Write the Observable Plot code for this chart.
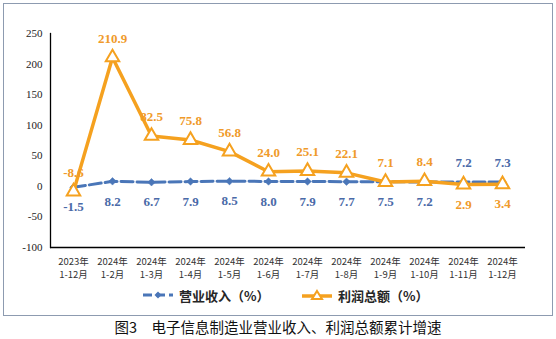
<!DOCTYPE html>
<html>
<head>
<meta charset="utf-8">
<script src="https://cdn.jsdelivr.net/npm/d3@7"></script>
<script src="https://cdn.jsdelivr.net/npm/@observablehq/plot@0.6"></script>
<style>
  html, body { margin: 0; padding: 0; background: #fff; }
  #wrap { position: relative; width: 556px; height: 339px; overflow: hidden; }
  #border { position: absolute; left: 3px; top: 3px; width: 550px; height: 313px; box-sizing: border-box; border: 1px solid #8d9bb0; }
  #chart { position: absolute; left: 0; top: 0; }
  #legend { position: absolute; top: 285px; left: 0; width: 556px; height: 20px; font-family: "Noto Sans CJK SC", sans-serif; font-weight: bold; font-size: 13px; color: #262626; }
  #legend .item { position: absolute; top: 0; display: flex; align-items: center; height: 20px; }
  #legend svg { margin-right: 5px; }
  #caption { position: absolute; top: 317px; left: 0; width: 556px; text-align: center; font-family: "Noto Sans CJK SC", sans-serif; font-size: 14.5px; color: #111; line-height: 20px; }
</style>
</head>
<body>
<div id="wrap">
  <div id="border"></div>
  <div id="chart"></div>
  <div id="legend">
    <div class="item" style="left:142px">
      <svg width="32" height="12"><line x1="1" y1="6" x2="31" y2="6" stroke="#4a76b8" stroke-width="3" stroke-dasharray="9,4"/><path d="M16,2.5 L19.5,6 L16,9.5 L12.5,6 Z" fill="#4a76b8"/></svg>
      <span>营业收入（%）</span>
    </div>
    <div class="item" style="left:301px">
      <svg width="32" height="14"><line x1="1" y1="8" x2="31" y2="8" stroke="#f5a11f" stroke-width="3.5"/><path d="M16,3 L21,11 L11,11 Z" fill="#fff" stroke="#f5a11f" stroke-width="2"/></svg>
      <span>利润总额（%）</span>
    </div>
  </div>
  <div id="caption">图3　电子信息制造业营业收入、利润总额累计增速</div>
</div>
<script>
const categories = ["2023年1-12月","2024年1-2月","2024年1-3月","2024年1-4月","2024年1-5月","2024年1-6月","2024年1-7月","2024年1-8月","2024年1-9月","2024年1-10月","2024年1-11月","2024年1-12月"];
const revenue = [-1.5, 8.2, 6.7, 7.9, 8.5, 8.0, 7.9, 7.7, 7.5, 7.2, 7.2, 7.3];
const profit = [-8.6, 210.9, 82.5, 75.8, 56.8, 24.0, 25.1, 22.1, 7.1, 8.4, 2.9, 3.4];
const yTicks = [-100, -50, 0, 50, 100, 150, 200, 250];
const profitLabelBelow = ["2024年1-11月", "2024年1-12月"];

const blue = "#4a76b8", blueText = "#4a6aa8";
const orange = "#f5a11f", orangeText = "#f09a2a";

const rows = categories.map((c, i) => ({cat: c, revenue: revenue[i], profit: profit[i]}));
const revAbove = rows.filter(d => profitLabelBelow.includes(d.cat));
const revBelow = rows.filter(d => !profitLabelBelow.includes(d.cat));
const profAbove = revBelow, profBelow = revAbove;

const labelFont = {fontFamily: "Liberation Serif, serif", fontWeight: "bold", fontSize: 13};

const chart = Plot.plot({
  width: 556,
  height: 285,
  marginLeft: 50,
  marginRight: 31,
  marginTop: 33,
  marginBottom: 38,
  x: {type: "point", domain: categories, padding: 0.5, axis: null},
  y: {domain: [-100, 250], axis: null},
  style: {background: "transparent"},
  marks: [
    Plot.frame({anchor: "left", stroke: "#000", strokeWidth: 1.3}),
    Plot.ruleY([-100], {stroke: "#000", strokeWidth: 1.3}),
    Plot.axisY(yTicks, {tickSize: 0, tickPadding: 8, tickFormat: d => String(d), fontFamily: "Liberation Serif, serif", fontSize: 11, fill: "#222", label: null}),
    Plot.axisX(categories, {tickSize: 0, tickPadding: 9, tickFormat: d => d.replace("年", "年\n"), fontFamily: "Noto Sans CJK SC, sans-serif", fontSize: 9.5, lineHeight: 1.3, fill: "#333", label: null}),
    Plot.line(rows, {x: "cat", y: "revenue", stroke: blue, strokeWidth: 3, strokeDasharray: "12,4"}),
    Plot.dot(rows, {x: "cat", y: "revenue", symbol: "diamond2", r: 3.4, fill: blue, stroke: blue, strokeWidth: 0.5}),
    Plot.line(rows, {x: "cat", y: "profit", stroke: orange, strokeWidth: 3.5}),
    Plot.dot(rows, {x: "cat", y: "profit", symbol: "triangle", r: 5, fill: "#fff", stroke: orange, strokeWidth: 2}),
    Plot.text(revBelow, {x: "cat", y: "revenue", text: d => d.revenue.toFixed(1), dy: 20, fill: blueText, ...labelFont}),
    Plot.text(revAbove, {x: "cat", y: "revenue", text: d => d.revenue.toFixed(1), dy: -19, fill: blueText, ...labelFont}),
    Plot.text(profAbove, {x: "cat", y: "profit", text: d => d.profit.toFixed(1), dy: -19, fill: orangeText, ...labelFont}),
    Plot.text(profBelow, {x: "cat", y: "profit", text: d => d.profit.toFixed(1), dy: 20, fill: orangeText, ...labelFont})
  ]
});
document.getElementById("chart").appendChild(chart);
</script>
</body>
</html>
